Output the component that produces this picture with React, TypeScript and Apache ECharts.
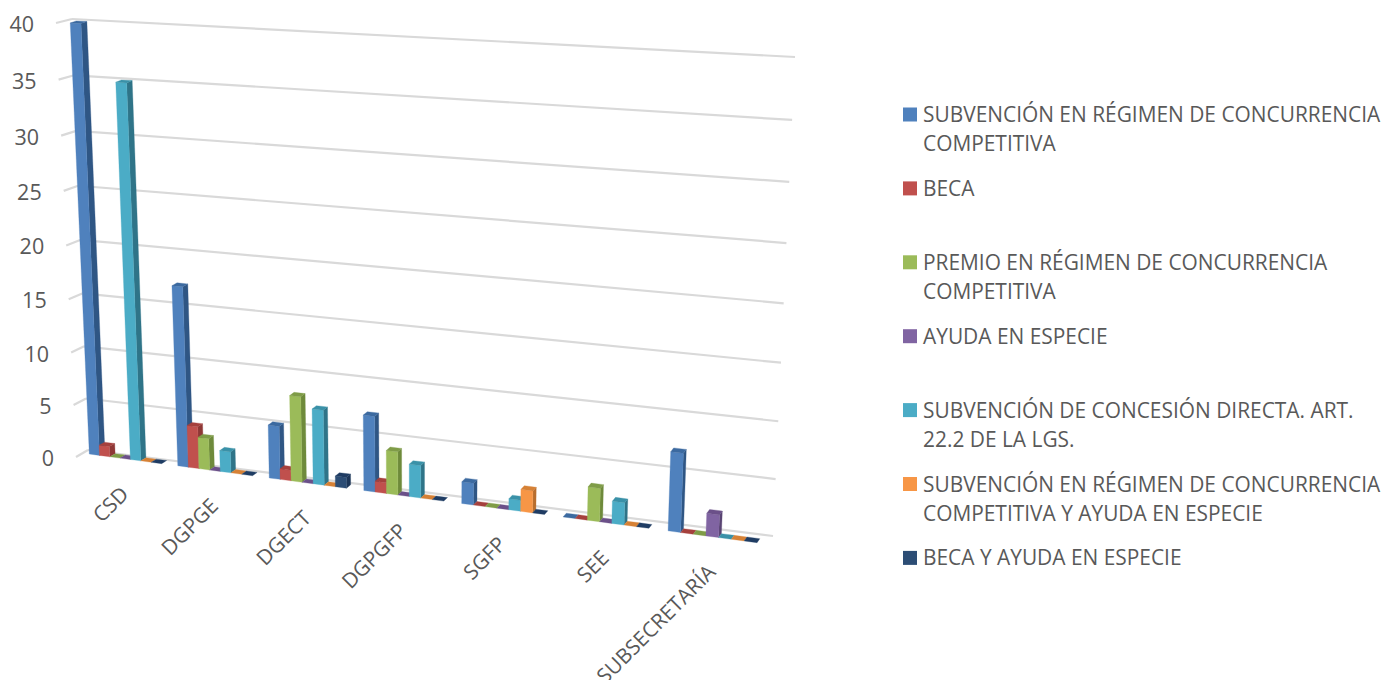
import React, { useEffect, useRef } from "react";
import * as echarts from "echarts";

const categories = ["CSD", "DGPGE", "DGECT", "DGPGFP", "SGFP", "SEE", "SUBSECRETARÍA"];
const ticks = [0, 5, 10, 15, 20, 25, 30, 35, 40];

const subvencionCC = [40, 17, 5, 7, 2, 0, 7];
const beca = [1, 4, 1, 1, 0, 0, 0];
const premio = [0, 3, 8, 4, 0, 3, 0];
const ayudaEspecie = [0, 0, 0, 0, 0, 0, 2];
const concesionDirecta = [35, 2, 7, 3, 1, 2, 0];
const subvencionAyuda = [0, 0, 0, 0, 2, 0, 0];
const becaAyuda = [0, 0, 1, 0, 0, 0, 0];

const seriesNames = [
  "SUBVENCIÓN EN RÉGIMEN DE CONCURRENCIA\nCOMPETITIVA",
  "BECA",
  "PREMIO EN RÉGIMEN DE CONCURRENCIA\nCOMPETITIVA",
  "AYUDA EN ESPECIE",
  "SUBVENCIÓN DE CONCESIÓN DIRECTA. ART.\n22.2 DE LA LGS.",
  "SUBVENCIÓN EN RÉGIMEN DE CONCURRENCIA\nCOMPETITIVA Y AYUDA EN ESPECIE",
  "BECA Y AYUDA EN ESPECIE",
];
const seriesValues = [subvencionCC, beca, premio, ayudaEspecie, concesionDirecta, subvencionAyuda, becaAyuda];
const frontColors = ["#4F81BD", "#C0504D", "#9BBB59", "#8064A2", "#4BACC6", "#F79646", "#2C4D75"];
const sideColors = ["#2F5684", "#8E3836", "#6E8A3B", "#594473", "#2F7488", "#B86E2E", "#1C3557"];
const topColors = ["#3C6AA0", "#A5403D", "#7F9C47", "#6B5089", "#3A91A8", "#D68135", "#1F3C63"];

type Pt = [number, number];
const FONT = '"Open Sans", sans-serif';
const TEXT = "#595959";

// Projective map of the unit square onto a quad given as [u0v0, u1v0, u1v1, u0v1]
function homography(q: Pt[]) {
  const [[x0, y0], [x1, y1], [x2, y2], [x3, y3]] = q;
  const dx1 = x1 - x2, dx2 = x3 - x2, sx = x0 - x1 + x2 - x3;
  const dy1 = y1 - y2, dy2 = y3 - y2, sy = y0 - y1 + y2 - y3;
  const den = dx1 * dy2 - dx2 * dy1;
  const g = (sx * dy2 - dx2 * sy) / den;
  const h = (dx1 * sy - sx * dy1) / den;
  const a = x1 - x0 + g * x1, b = x3 - x0 + h * x3;
  const d = y1 - y0 + g * y1, e = y3 - y0 + h * y3;
  return (u: number, v: number): Pt => {
    const w = g * u + h * v + 1;
    return [(a * u + b * v + x0) / w, (d * u + e * v + y0) / w];
  };
}

const frontPlane = homography([[81.5, 453], [767, 544], [789.5, 60.5], [62, 22.5]]);
const backPlane = homography([[87, 450], [769.7, 540], [792.2, 56.5], [68, 20.5]]);
const wall = homography([[88, 450], [773, 536], [795, 57], [72, 19]]);

// The short side-wall stub in front of the wall's left edge
const sideEnd = (v: number): Pt => {
  const c = wall(0, v);
  return [c[0] - (12 + 4 * v), c[1] + (7 - 3 * v)];
};

const GROUP_SHARE = 0.82;

function toUnit(params: any, px: number, py: number): Pt {
  const c = params.coordSys;
  return [(px - c.x) / c.width, (c.y + c.height - py) / c.height];
}

function barRenderer(seriesIndex: number) {
  return (params: any, api: any) => {
    const cat = api.value(0);
    const val = api.value(1);
    const [cx, topY] = api.coord([cat, val]);
    const [, baseY] = api.coord([cat, 0]);
    const band = params.coordSys.width / categories.length;
    const barW = (band * GROUP_SHARE) / seriesValues.length;
    const left = cx - (band * GROUP_SHARE) / 2 + seriesIndex * barW;
    const [u0, v0] = toUnit(params, left, baseY);
    const [u1, v1] = toUnit(params, left + barW, topY);
    const polys: any[] = [];
    const poly = (points: Pt[], fill: string) =>
      polys.push({ type: "polygon", shape: { points }, style: { fill, stroke: fill, lineWidth: 0.3 } });
    if (val > 0) {
      poly([backPlane(u1, v0), backPlane(u1, v1), frontPlane(u1, v1), frontPlane(u1, v0)], sideColors[seriesIndex]);
      poly([frontPlane(u0, v0), frontPlane(u1, v0), frontPlane(u1, v1), frontPlane(u0, v1)], frontColors[seriesIndex]);
    }
    poly([frontPlane(u0, v1), frontPlane(u1, v1), backPlane(u1, v1), backPlane(u0, v1)], topColors[seriesIndex]);
    return { type: "group", children: polys };
  };
}

function gridRenderer(params: any, api: any) {
  const tick = api.value(0);
  const [, py] = api.coord([0, tick]);
  const [, v] = toUnit(params, 0, py);
  const end = sideEnd(v);
  const line = (a: Pt, b: Pt) => ({
    type: "line",
    shape: { x1: a[0], y1: a[1], x2: b[0], y2: b[1] },
    style: { stroke: "#D9D9D9", lineWidth: 2.2 },
  });
  return {
    type: "group",
    children: [
      line(end, wall(0, v)),
      line(wall(0, v), wall(1, v)),
      {
        type: "text",
        x: end[0] - 22,
        y: end[1] + 0.5,
        style: { text: String(tick), align: "right", verticalAlign: "middle", fontFamily: FONT, fontSize: 21.5, fill: TEXT },
      },
    ],
  };
}

function categoryLabelRenderer(params: any, api: any) {
  const cat = api.value(0);
  const [cx, cy] = api.coord([cat, 0]);
  const [u, v] = toUnit(params, cx, cy);
  const p = frontPlane(u, v);
  return {
    type: "text",
    x: p[0] - 1,
    y: p[1] + 31,
    rotation: Math.PI / 4,
    style: {
      text: categories[cat],
      align: "right",
      verticalAlign: "middle",
      fontFamily: FONT,
      fontSize: 20.9,
      fill: TEXT,
    },
  };
}

const legendGraphics = () =>
  seriesNames.flatMap((name, i) => {
    const y = 114 + i * 73.9;
    return [
      { type: "rect", shape: { x: 903, y: y - 6.5, width: 14, height: 14 }, style: { fill: frontColors[i] } },
      {
        type: "text",
        x: 923,
        y: y - 14.5,
        style: { text: name, fontFamily: FONT, fontSize: 20.9, lineHeight: 29, fill: TEXT, align: "left", verticalAlign: "top" },
      },
    ];
  });

export default function App() {
  const ref = useRef<HTMLDivElement>(null);
  useEffect(() => {
    const chart = echarts.init(ref.current!, undefined, { renderer: "svg" });
    chart.setOption({
      animation: false,
      backgroundColor: "#FFFFFF",
      grid: { left: 100, top: 40, width: 600, height: 400 },
      xAxis: { type: "category", data: categories, show: false },
      yAxis: { type: "value", min: 0, max: 40, interval: 5, show: false },
      graphic: legendGraphics(),
      series: [
        {
          type: "custom",
          name: "grid",
          silent: true,
          data: ticks.map((t) => [t]),
          encode: { y: 0 },
          renderItem: gridRenderer,
        },
        ...seriesValues.map((values, s) => ({
          type: "custom",
          name: seriesNames[s].replace("\n", " "),
          silent: true,
          data: values.map((v, i) => [i, v]),
          encode: { x: 0, y: 1 },
          renderItem: barRenderer(s),
        })),
        {
          type: "custom",
          name: "categories",
          silent: true,
          data: categories.map((_, i) => [i]),
          encode: { x: 0 },
          renderItem: categoryLabelRenderer,
        },
      ],
    });
    return () => chart.dispose();
  }, []);
  return (
    <div
      ref={ref}
      style={{ position: "fixed", left: 0, top: 0, width: 1385, height: 680, overflow: "hidden", background: "#fff" }}
    />
  );
}
